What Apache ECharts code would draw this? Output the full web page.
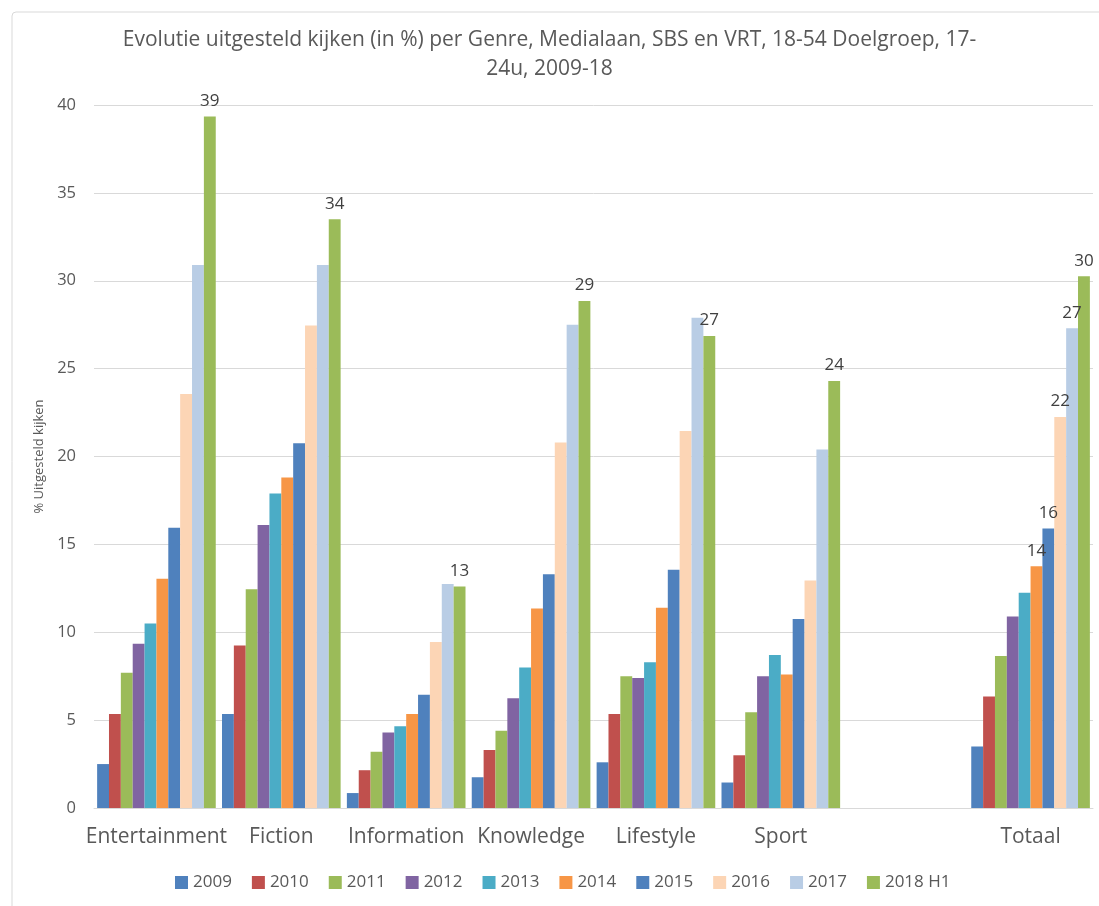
<!DOCTYPE html>
<html>
<head>
<meta charset="utf-8">
<script src="https://cdn.jsdelivr.net/npm/echarts@6/dist/echarts.min.js"></script>
<style>html,body{margin:0;padding:0;background:#fff;}#c{width:1099px;height:906px;}</style>
</head>
<body>
<div id="c"></div>
<script>
const categories = ['Entertainment', 'Fiction', 'Information', 'Knowledge', 'Lifestyle', 'Sport', '', 'Totaal'];
const seriesNames = ['2009', '2010', '2011', '2012', '2013', '2014', '2015', '2016', '2017', '2018 H1'];
const s2009 = [2.5, 5.35, 0.85, 1.75, 2.6, 1.45, null, 3.5];
const s2010 = [5.35, 9.25, 2.15, 3.3, 5.35, 3.0, null, 6.35];
const s2011 = [7.7, 12.45, 3.2, 4.4, 7.5, 5.45, null, 8.65];
const s2012 = [9.35, 16.1, 4.3, 6.25, 7.4, 7.5, null, 10.9];
const s2013 = [10.5, 17.9, 4.65, 8.0, 8.3, 8.7, null, 12.25];
const s2014 = [13.05, 18.8, 5.35, 11.35, 11.4, 7.6, null, 13.75];
const s2015 = [15.95, 20.75, 6.45, 13.3, 13.55, 10.75, null, 15.9];
const s2016 = [23.55, 27.45, 9.45, 20.8, 21.45, 12.95, null, 22.25];
const s2017 = [30.9, 30.9, 12.75, 27.5, 27.9, 20.4, null, 27.3];
const s2018 = [39.35, 33.5, 12.6, 28.85, 26.85, 24.3, null, 30.25];
const seriesValues = [s2009, s2010, s2011, s2012, s2013, s2014, s2015, s2016, s2017, s2018];
// category indices whose bar shows a data label, per series
const labelled2014 = [7];
const labelled2015 = [7];
const labelled2016 = [7];
const labelled2017 = [7];
const labelled2018 = [0, 1, 2, 3, 4, 5, 7];
const labelledBySeries = [[], [], [], [], [], labelled2014, labelled2015, labelled2016, labelled2017, labelled2018];
const yTicks = { min: 0, max: 40, interval: 5 };

const colors = ['#4F81BD', '#C0504D', '#9BBB59', '#8064A2', '#4BACC6', '#F79646', '#4F81BD', '#FCD5B5', '#B9CDE5', '#9BBB59'];
const font = "'Open Sans', sans-serif";
const textColor = '#595959';

const chart = echarts.init(document.getElementById('c'), null, { renderer: 'canvas' });

const series = seriesNames.map((name, i) => ({
  name: name,
  type: 'bar',
  barGap: '0%',
  barCategoryGap: '5%',
  itemStyle: { color: colors[i] },
  label: {
    show: false,
    position: 'top',
    distance: 7,
    fontFamily: font,
    fontSize: 17,
    color: '#404040',
    formatter: p => String(Math.round(p.value))
  },
  emphasis: { disabled: true },
  data: seriesValues[i].map((v, ci) => {
    if (v === null) return '-';
    if (labelledBySeries[i].indexOf(ci) >= 0) return { value: v, label: { show: true } };
    return v;
  })
}));

chart.setOption({
  animation: false,
  backgroundColor: '#fff',
  color: colors,
  graphic: [{
    type: 'rect',
    shape: { x: 12, y: 12, width: 1200, height: 1000, r: 4 },
    style: { fill: 'none', stroke: '#D9D9D9', lineWidth: 1 },
    z: -10, silent: true
  }],
  title: {
    text: 'Evolutie uitgesteld kijken (in %) per Genre, Medialaan, SBS en VRT, 18-54 Doelgroep, 17-\n24u, 2009-18',
    left: 'center',
    top: 21,
    padding: [5, 5, 5, 29],
    textStyle: { fontFamily: font, fontSize: 21, fontWeight: 'normal', color: textColor, lineHeight: 29 }
  },
  legend: {
    bottom: 10,
    left: 170,
    icon: 'rect',
    itemWidth: 13,
    itemHeight: 13,
    itemGap: 20,
    textStyle: { fontFamily: font, fontSize: 17, color: textColor },
    data: seriesNames
  },
  grid: { left: 94, right: 6, top: 105, bottom: 98, containLabel: false },
  xAxis: {
    type: 'category',
    data: categories,
    axisLine: { lineStyle: { color: '#D9D9D9', width: 1 } },
    axisTick: { show: false },
    axisLabel: { fontFamily: font, fontSize: 21, color: textColor, margin: 19, interval: 0 }
  },
  yAxis: {
    type: 'value',
    min: yTicks.min,
    max: yTicks.max,
    interval: yTicks.interval,
    name: '% Uitgesteld kijken',
    nameLocation: 'middle',
    nameGap: 45,
    nameRotate: 90,
    nameTextStyle: { fontFamily: font, fontSize: 13, color: textColor },
    axisLine: { show: false },
    axisTick: { show: false },
    axisLabel: { fontFamily: font, fontSize: 16.5, color: textColor, margin: 18 },
    splitLine: { lineStyle: { color: '#D9D9D9', width: 1 } }
  },
  series: series
});
</script>
</body>
</html>
